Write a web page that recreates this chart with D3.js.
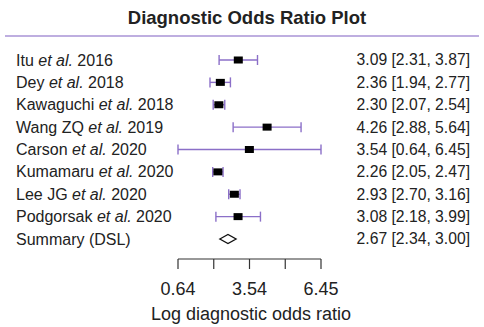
<!DOCTYPE html>
<head>
  <meta charset="utf-8">
  <script src="https://d3js.org/d3.v7.min.js"></script>
  <style>
    body { margin: 0; background: #fff; }
    text { font-family: 'Liberation Sans', Arial, sans-serif; fill: #222; }
    .title { font-size: 18.5px; font-weight: bold; }
    .label { font-size: 16px; }
    .value { font-size: 15.7px; }
    .tick-label { font-size: 18px; }
  </style>
</head>
<body>
  <div id="chart"></div>
  <script>
    // study rows
    var authors = ["Itu", "Dey", "Kawaguchi", "Wang ZQ", "Carson", "Kumamaru", "Lee JG", "Podgorsak"];
    var years = [2016, 2018, 2018, 2019, 2020, 2020, 2020, 2020];
    var estimates = [3.09, 2.36, 2.30, 4.26, 3.54, 2.26, 2.93, 3.08];
    var lowers = [2.31, 1.94, 2.07, 2.88, 0.64, 2.05, 2.70, 2.18];
    var uppers = [3.87, 2.77, 2.54, 5.64, 6.45, 2.47, 3.16, 3.99];

    // pooled estimate
    var summaryLabel = "Summary (DSL)";
    var summary = [2.67, 2.34, 3.00];

    var axisTicks = [0.64, 2.0925, 3.545, 4.9975, 6.45];
    var axisLabels = ["0.64", "", "3.54", "", "6.45"];

    var w = 484, h = 327;
    var purple = "#8b6fc8";

    var svg = d3.select("#chart").append("svg")
      .attr("width", w)
      .attr("height", h);

    svg.append("text")
      .attr("class", "title")
      .attr("x", 247)
      .attr("y", 24)
      .attr("text-anchor", "middle")
      .text("Diagnostic Odds Ratio Plot");

    svg.append("line")
      .attr("x1", 5).attr("x2", 479)
      .attr("y1", 36).attr("y2", 36)
      .attr("stroke", "#a893d6")
      .attr("stroke-width", 1.5);

    var x = d3.scaleLinear().domain([0.64, 6.45]).range([178, 321]);
    var y = d3.scaleLinear().domain([0, 8]).range([60, 239]);

    var fmt = d3.format(".2f");

    var rows = authors.map(function (a, i) {
      return { author: a, year: years[i], est: estimates[i], lo: lowers[i], hi: uppers[i] };
    });

    var g = svg.selectAll("g.row").data(rows).enter().append("g").attr("class", "row");

    var label = g.append("text")
      .attr("class", "label")
      .attr("x", 16)
      .attr("y", function (d, i) { return y(i); })
      .attr("dy", "0.35em");
    label.append("tspan").text(function (d) { return d.author + " "; });
    label.append("tspan").attr("font-style", "italic").text("et al.");
    label.append("tspan").text(function (d) { return " " + d.year; });

    g.append("line")
      .attr("x1", function (d) { return x(d.lo); })
      .attr("x2", function (d) { return x(d.hi); })
      .attr("y1", function (d, i) { return y(i); })
      .attr("y2", function (d, i) { return y(i); })
      .attr("stroke", purple).attr("stroke-width", 1.4);

    ["lo", "hi"].forEach(function (k) {
      g.append("line")
        .attr("x1", function (d) { return x(d[k]); })
        .attr("x2", function (d) { return x(d[k]); })
        .attr("y1", function (d, i) { return y(i) - 5; })
        .attr("y2", function (d, i) { return y(i) + 5; })
        .attr("stroke", purple).attr("stroke-width", 1.4);
    });

    g.append("rect")
      .attr("x", function (d) { return x(d.est) - 4.5; })
      .attr("y", function (d, i) { return y(i) - 3.5; })
      .attr("width", 9).attr("height", 7)
      .attr("fill", "#000");

    g.append("text")
      .attr("class", "value")
      .attr("x", 470)
      .attr("y", function (d, i) { return y(i); })
      .attr("dy", "0.35em")
      .attr("text-anchor", "end")
      .text(function (d) { return fmt(d.est) + " [" + fmt(d.lo) + ", " + fmt(d.hi) + "]"; });

    // summary row
    var ys = y(8);
    svg.append("text")
      .attr("class", "label")
      .attr("x", 16).attr("y", ys).attr("dy", "0.35em")
      .text(summaryLabel);

    svg.append("path")
      .attr("d", "M" + x(summary[1]) + "," + ys +
        "L" + x(summary[0]) + "," + (ys - 4.5) +
        "L" + x(summary[2]) + "," + ys +
        "L" + x(summary[0]) + "," + (ys + 4.5) + "Z")
      .attr("fill", "#fff").attr("stroke", "#111").attr("stroke-width", 1.3);

    svg.append("text")
      .attr("class", "value")
      .attr("x", 470).attr("y", ys).attr("dy", "0.35em")
      .attr("text-anchor", "end")
      .text(fmt(summary[0]) + " [" + fmt(summary[1]) + ", " + fmt(summary[2]) + "]");

    // axis: ticks hang down from the line
    var axis = svg.append("g").attr("transform", "translate(0,259)");
    axis.append("line")
      .attr("x1", x(0.64)).attr("x2", x(6.45))
      .attr("stroke", "#333").attr("stroke-width", 1.2);
    axis.selectAll("line.tick").data(axisTicks).enter().append("line")
      .attr("class", "tick")
      .attr("x1", function (d) { return x(d); })
      .attr("x2", function (d) { return x(d); })
      .attr("y1", 0).attr("y2", 10)
      .attr("stroke", "#333").attr("stroke-width", 1.2);
    axis.selectAll("text").data(axisTicks).enter().append("text")
      .attr("class", "tick-label")
      .attr("x", function (d) { return x(d); })
      .attr("y", 36)
      .attr("text-anchor", "middle")
      .text(function (d, i) { return axisLabels[i]; });

    svg.append("text")
      .attr("class", "tick-label")
      .attr("x", 251).attr("y", 320)
      .attr("text-anchor", "middle")
      .text("Log diagnostic odds ratio");
  </script>
</body>
</html>
